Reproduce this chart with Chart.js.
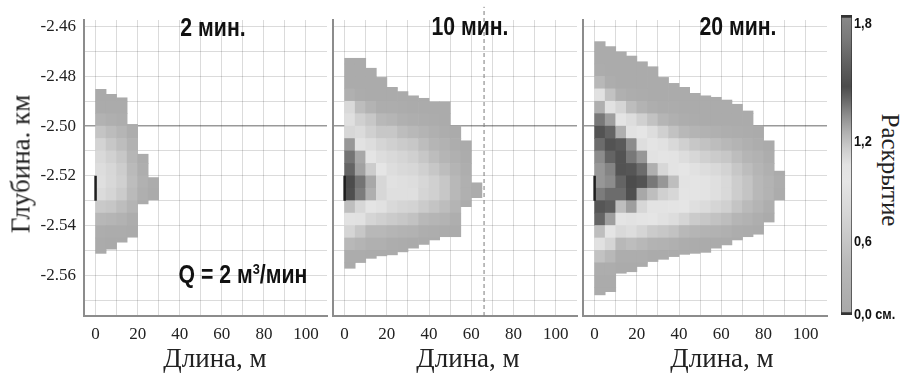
<!DOCTYPE html>
<html>
<head>
<meta charset="utf-8">
<script src="https://cdn.jsdelivr.net/npm/chart.js@4.4.1/dist/chart.umd.min.js"></script>
<style>
  body { margin: 0; background: #fff; }
  #wrap { position: relative; width: 906px; height: 374px; overflow: hidden; background: #fff; }
  canvas { position: absolute; top: 0; }
  .lbl { position: absolute; white-space: nowrap; line-height: 1; color: #111; }
  .head { font: bold 25px 'Liberation Sans', Arial, sans-serif; transform: translate(-50%, -50%) scaleX(0.85); }
  .head sup { font-size: 15px; vertical-align: 9px; }
  .axt { font: 27px 'Liberation Serif', 'Times New Roman', serif; color: #222; transform: translate(-50%, -50%); }
  .yt { transform: translate(-50%, -50%) rotate(-90deg); }
  .cbt { transform: translate(-50%, -50%) rotate(90deg); font-size: 25px; }
  .cbl { font: bold 15px 'Liberation Sans', Arial, sans-serif; transform: translateY(-50%) scaleX(0.85); transform-origin: left center; }
</style>
</head>
<body>
<div id="wrap">
  <canvas id="p1" width="330" height="374" style="left:0"></canvas>
  <canvas id="p2" width="270" height="374" style="left:310px"></canvas>
  <canvas id="p3" width="270" height="374" style="left:560px"></canvas>
  <canvas id="cb" width="22" height="374" style="left:836px"></canvas>

  <div class="lbl head" style="left:213px;top:27px">2 мин.</div>
  <div class="lbl head" style="left:470px;top:26px">10 мин.</div>
  <div class="lbl head" style="left:738px;top:26px">20 мин.</div>
  <div class="lbl head" style="left:243px;top:274px">Q = 2 м<sup>3</sup>/мин</div>

  <div class="lbl axt" style="left:215px;top:358px">Длина, м</div>
  <div class="lbl axt" style="left:468px;top:358px">Длина, м</div>
  <div class="lbl axt" style="left:722px;top:358px">Длина, м</div>
  <div class="lbl axt yt" style="left:21px;top:164px">Глубина. км</div>
  <div class="lbl axt cbt" style="left:890px;top:170px">Раскрытие</div>
  <div id="cbLabels"></div>
</div>

<script>
// оси
const depthTicks = [-2.57, -2.56, -2.55, -2.54, -2.53, -2.52, -2.51, -2.50, -2.49, -2.48, -2.47, -2.46];
const lengthTicks = [0, 10, 20, 30, 40, 50, 60, 70, 80, 90, 100];
const cbarTicks = ['1,8', '1,2', '0,6', '0,0 см.'];
const cbarMax = 1.8;

// сетка ячеек: 5 м по длине, 0.005 км по глубине (ряд 0 начинается с -2.46)
const colWidth = 5;
const rowStep = 0.005;
const rowStart = -2.46;

// интервал перфорации и фронт (пунктир) на 10 мин.
const wellTop = -2.52, wellBot = -2.53;
const frontLine = 66;

// 2 мин.
const p1Top = [-2.4852, -2.4872, -2.4886, -2.4993, -2.5113, -2.5207];
const p1Bot = [-2.5512, -2.5495, -2.5467, -2.5447, -2.5313, -2.5297];
const p1Row0 = [5, 5, 5, 7, 10, 12];
const p1Val = [
  [.03, .05, .18, .42, .58, .65, .70, .72, .68, .48, .28, .10, .05, .03],
  [.03, .05, .14, .34, .46, .56, .62, .64, .60, .44, .24, .08, .04],
  [.03, .05, .10, .24, .35, .45, .52, .55, .50, .35, .18, .07, .03],
  [.05, .10, .18, .26, .32, .35, .32, .22, .10, .05],
  [.08, .12, .16, .13, .06],
  [.08, .06]
];

// 10 мин.
const p2Top = [-2.4727, -2.4727, -2.4767, -2.4804, -2.4844, -2.4861, -2.4878, -2.4888, -2.4902, -2.4902, -2.4999, -2.5059, -2.5228];
const p2Bot = [-2.5572, -2.5549, -2.5532, -2.5522, -2.5518, -2.5506, -2.5491, -2.5476, -2.5458, -2.5445, -2.5445, -2.5324, -2.5288];
const p2Row0 = [2, 2, 3, 4, 4, 5, 5, 5, 6, 6, 8, 9, 12];
const p2Val = [
  [.05, .05, .05, .15, .65, .72, .95, 1.17, 1.26, 1.30, 1.37, 1.36, 1.05, .90, .60, .30, .08, .05],
  [.05, .05, .05, .08, .35, .55, .68, .90, 1.12, 1.14, 1.26, 1.24, .95, .75, .45, .22, .08],
  [.05, .05, .05, .20, .45, .55, .70, .85, 1.00, 1.12, 1.10, .85, .60, .30, .15, .05],
  [.05, .05, .10, .30, .45, .60, .70, .80, .95, .95, .75, .55, .30, .15, .05],
  [.05, .05, .10, .25, .45, .55, .65, .70, .75, .72, .65, .50, .25, .10, .05],
  [.05, .08, .15, .35, .50, .60, .65, .72, .72, .60, .45, .20, .08, .05],
  [.05, .05, .12, .30, .45, .55, .62, .70, .72, .58, .40, .18, .06],
  [.05, .05, .10, .22, .35, .45, .55, .62, .60, .50, .30, .12, .05],
  [.05, .08, .15, .25, .35, .45, .55, .55, .42, .25, .10, .05],
  [.05, .05, .10, .18, .25, .35, .45, .45, .35, .20, .08],
  [.05, .10, .15, .22, .30, .30, .22, .12, .05],
  [.05, .08, .12, .15, .15, .08],
  [.08, .08]
];

// 20 мин.
const p3Top = [-2.4660, -2.4680, -2.4701, -2.4718, -2.4741, -2.4761, -2.4804, -2.4828, -2.4844, -2.4868, -2.4878, -2.4884, -2.4895, -2.4912, -2.4939, -2.4999, -2.5059, -2.5181];
const p3Bot = [-2.5679, -2.5666, -2.5592, -2.5586, -2.5565, -2.5545, -2.5536, -2.5525, -2.5516, -2.5512, -2.5508, -2.5491, -2.5478, -2.5458, -2.5445, -2.5435, -2.5386, -2.5297];
const p3Row0 = [1, 1, 2, 2, 2, 3, 4, 4, 4, 5, 5, 5, 5, 6, 6, 8, 9, 11];
const p3Val = [
  [.05, .05, .08, .30, .75, 1.10, 1.25, 1.35, 1.28, 1.20, 1.17, 1.17, 1.24, 1.34, 1.30, 1.05, .75, .40, .10, .05, .05],
  [.05, .05, .05, .10, .40, .75, 1.15, 1.30, 1.35, 1.30, 1.22, 1.20, 1.28, 1.32, 1.15, .85, .60, .30, .10, .05, .05],
  [.05, .05, .05, .15, .60, .85, 1.10, 1.33, 1.35, 1.35, 1.30, 1.28, 1.05, .85, .65, .30, .10, .05],
  [.05, .05, .05, .10, .35, .70, .90, 1.20, 1.25, 1.34, 1.37, 1.36, 1.15, .90, .70, .35, .10, .05],
  [.05, .05, .05, .08, .20, .55, .80, .92, 1.17, 1.28, 1.35, 1.12, .95, .85, .60, .30, .10, .05],
  [.05, .05, .05, .12, .40, .70, .85, .90, 1.10, 1.25, 1.05, .88, .80, .50, .20, .05],
  [.05, .05, .08, .25, .55, .75, .85, .95, 1.17, .98, .88, .75, .45, .18, .05],
  [.05, .05, .08, .15, .40, .65, .78, .88, 1.05, .95, .85, .70, .40, .15, .05],
  [.05, .05, .05, .10, .30, .55, .70, .80, .88, .85, .80, .60, .30, .10, .05],
  [.05, .05, .08, .22, .45, .62, .75, .82, .82, .72, .50, .25, .08, .05],
  [.05, .05, .06, .18, .40, .55, .70, .78, .78, .68, .45, .20, .06, .05],
  [.05, .05, .05, .15, .35, .50, .65, .72, .72, .60, .40, .18, .05],
  [.05, .05, .05, .12, .30, .45, .58, .65, .65, .55, .35, .15, .05],
  [.05, .05, .10, .22, .35, .45, .52, .52, .42, .25, .10, .05],
  [.05, .05, .08, .15, .25, .35, .42, .42, .32, .18, .08],
  [.05, .10, .18, .25, .30, .30, .22, .12, .05],
  [.05, .10, .15, .20, .20, .12, .05],
  [.05, .10, .08]
];

// шкала серого (значение -> уровень)
const grayStops = [[0, 168], [0.3, 184], [0.6, 213], [0.8, 229], [0.9, 226], [1.0, 204], [1.1, 175],
  [1.2, 140], [1.3, 100], [1.37, 76], [1.5, 95], [1.65, 120], [1.8, 138]];

const xMin = -5.5, xMax = 110;
const yMin = -2.5764, yMax = -2.4573;

function grayFor(v) {
  let g = grayStops[grayStops.length - 1][1];
  for (let i = 1; i < grayStops.length; i++) {
    const [v0, g0] = grayStops[i - 1], [v1, g1] = grayStops[i];
    if (v <= v1) { g = g0 + (g1 - g0) * Math.max(0, v - v0) / (v1 - v0); break; }
  }
  g = Math.round(g);
  return `rgb(${g},${g},${g})`;
}

function buildCells(tops, bots, row0, vals) {
  const pts = [], colors = [];
  vals.forEach((col, i) => {
    const x = i * colWidth + colWidth / 2;
    col.forEach((v, k) => {
      const r = row0[i] + k;
      const hi = k === 0 ? tops[i] : rowStart - r * rowStep;
      const lo = k === col.length - 1 ? bots[i] : rowStart - (r + 1) * rowStep;
      pts.push({ x: x, y: [lo, hi] });
      colors.push(grayFor(v));
    });
  });
  return { pts, colors };
}

const serif = { family: "'Liberation Serif', 'Times New Roman', serif", size: 17 };
const gridCol = 'rgba(0,0,0,0.14)';

function makePanel(id, cells, yAxisWidth, showY, extra) {
  const lines = [{
    type: 'line', data: [{ x: 0, y: wellTop }, { x: 0, y: wellBot }],
    borderColor: '#1e1e1e', borderWidth: 2.5, pointRadius: 0, order: 0
  }].concat(extra || []);
  return new Chart(document.getElementById(id), {
    type: 'bar',
    data: {
      datasets: lines.concat([{
        type: 'bar', data: cells.pts, backgroundColor: cells.colors,
        borderWidth: 0, barPercentage: 1, categoryPercentage: 1, order: 2
      }])
    },
    options: {
      responsive: false,
      animation: false,
      events: [],
      layout: { padding: { top: 20, right: 3, left: 0, bottom: 0 } },
      plugins: { legend: { display: false }, tooltip: { enabled: false } },
      scales: {
        x: {
          type: 'linear', min: xMin, max: xMax, offset: false, z: 1,
          afterBuildTicks: s => { s.ticks = lengthTicks.map(v => ({ value: v })); },
          afterFit: s => { s.height = 58; },
          grid: { color: gridCol, drawTicks: false, offset: false },
          border: { color: '#8c8c8c', width: 2 },
          ticks: {
            padding: 8, font: serif, color: '#222', maxRotation: 0, autoSkip: false,
            callback: v => (v % 20 === 0 ? String(v) : '')
          }
        },
        y: {
          type: 'linear', min: yMin, max: yMax, z: 1,
          afterBuildTicks: s => { s.ticks = depthTicks.map(v => ({ value: v })); },
          afterFit: s => { s.width = yAxisWidth; },
          grid: {
            drawTicks: false,
            color: c => (c.tick && Math.abs(c.tick.value + 2.5) < 1e-6 ? 'rgba(0,0,0,0.4)' : gridCol),
            lineWidth: c => (c.tick && Math.abs(c.tick.value + 2.5) < 1e-6 ? 1.5 : 1)
          },
          border: { color: '#8c8c8c', width: 2 },
          ticks: {
            display: showY, padding: 8, font: serif, color: '#222', autoSkip: false,
            callback: v => (Math.round(v * 100) % 2 === 0 ? v.toFixed(2) : '')
          }
        }
      }
    }
  });
}

makePanel('p1', buildCells(p1Top, p1Bot, p1Row0, p1Val), 84, true);
makePanel('p2', buildCells(p2Top, p2Bot, p2Row0, p2Val), 23, false, [{
  type: 'line', data: [{ x: frontLine, y: yMin }, { x: frontLine, y: -2.452 }],
  borderColor: '#7a7a7a', borderWidth: 1, borderDash: [4, 3], pointRadius: 0, clip: false, order: 0
}]);
makePanel('p3', buildCells(p3Top, p3Bot, p3Row0, p3Val), 23, false);

// цветовая шкала
new Chart(document.getElementById('cb'), {
  type: 'bar',
  data: {
    labels: [''],
    datasets: [{
      data: [[0, cbarMax]],
      backgroundColor: ctx => {
        const ch = ctx.chart;
        if (!ch.chartArea) return '#aaa';
        const y = ch.scales.y;
        const g = ch.ctx.createLinearGradient(0, y.getPixelForValue(0), 0, y.getPixelForValue(cbarMax));
        grayStops.forEach(([v, c]) => g.addColorStop(v / cbarMax, `rgb(${c},${c},${c})`));
        return g;
      },
      borderColor: '#333',
      borderWidth: { top: 3, bottom: 3, left: 1, right: 1 },
      borderSkipped: false,
      barPercentage: 1, categoryPercentage: 1
    }]
  },
  options: {
    responsive: false, animation: false, events: [],
    layout: { padding: { left: 5, right: 6, top: 15, bottom: 59 } },
    plugins: { legend: { display: false }, tooltip: { enabled: false } },
    scales: { x: { display: false }, y: { display: false, min: 0, max: cbarMax } }
  }
});

const cbLabelTop = [22, 140, 240, 313];
const holder = document.getElementById('cbLabels');
cbarTicks.forEach((t, i) => {
  const d = document.createElement('div');
  d.className = 'lbl cbl';
  d.style.left = '854px';
  d.style.top = cbLabelTop[i] + 'px';
  d.textContent = t;
  holder.appendChild(d);
});
</script>
</body>
</html>
